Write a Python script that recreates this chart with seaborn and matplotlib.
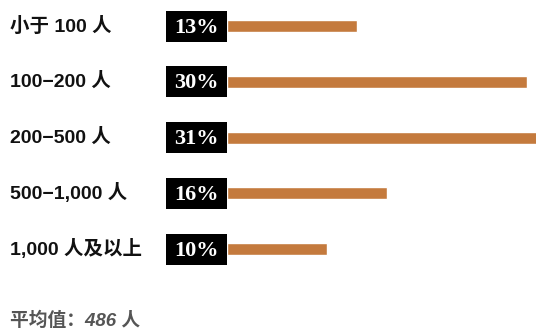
import matplotlib
matplotlib.use("Agg")
import matplotlib.pyplot as plt
import matplotlib.transforms as mtransforms
from matplotlib.patches import Rectangle
import seaborn as sns
import pandas as pd

categories = ["小于 100 人", "100−200 人", "200−500 人", "500−1,000 人", "1,000 人及以上"]
shares = [13, 30, 31, 16, 10]
pct_labels = ["13%", "30%", "31%", "16%", "10%"]
footer = "平均值：486 人"

sns.set_theme(style="white")
label_fonts = ["Liberation Sans", "Noto Sans CJK SC", "DejaVu Sans"]
plt.rcParams["font.family"] = label_fonts

W, H = 536, 329
fig = plt.figure(figsize=(W / 100, H / 100), dpi=100)
fig.patch.set_facecolor("white")

row_gap = 55.75
top_px = 26 - 0.5 * row_gap
ax_h = 5 * row_gap
ax = fig.add_axes([227 / W, 1 - (top_px + ax_h) / H, 309 / W, ax_h / H])

df = pd.DataFrame({"cat": categories, "share": shares})
sns.barplot(data=df, x="share", y="cat", orient="h", color="#C47A3D",
            width=12 / row_gap, saturation=1, ax=ax)
ax.set_xlim(0, 30.9)
ax.set_ylim(4.5, -0.5)
ax.axis("off")

trans = mtransforms.blended_transform_factory(fig.transFigure, ax.transData)
box_h = 31 / row_gap
for i, (cat, lab) in enumerate(zip(categories, pct_labels)):
    ax.add_patch(Rectangle((166 / W, i - box_h / 2), 61 / W, box_h,
                           transform=trans, facecolor="black",
                           edgecolor="none", clip_on=False, zorder=3))
    ax.text(196.5 / W, i + 0.03, lab, transform=trans, ha="center", va="center",
            color="white", fontsize=16, fontweight="bold",
            family=["Liberation Serif", "DejaVu Serif"], zorder=4, clip_on=False)
    ax.text(10 / W, i, cat, transform=trans, ha="left", va="center",
            color="#111111", fontsize=14, fontweight="bold", clip_on=False)

fig.text(10 / W, 1 - 321 / H, footer, ha="left", va="center",
         color="#555555", fontsize=13.5, fontstyle="italic", fontweight="bold")

fig.savefig("out.png", dpi=100, facecolor="white")
